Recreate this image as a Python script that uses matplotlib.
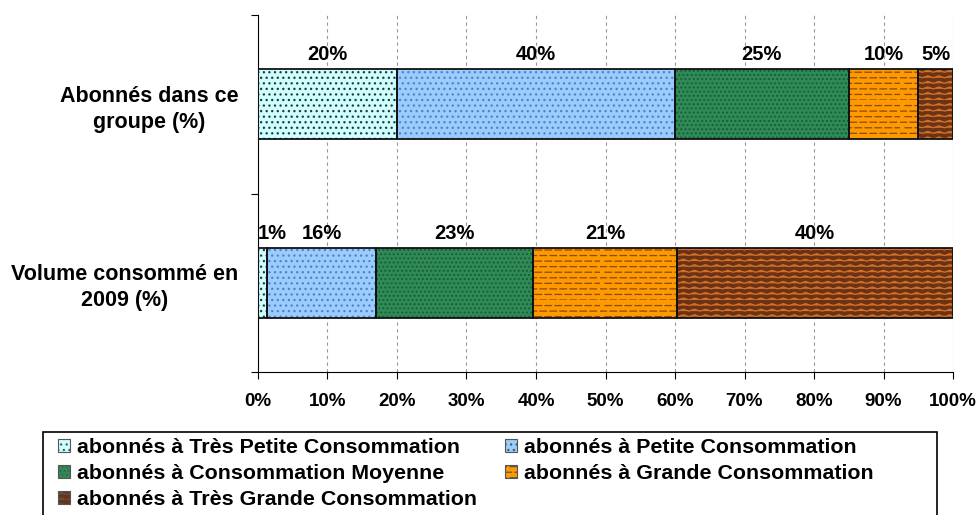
import warnings
import matplotlib
matplotlib.use("Agg")
import matplotlib.pyplot as plt
import matplotlib.hatch as mhatch
from matplotlib.path import Path
from matplotlib.patches import Patch, Rectangle
import numpy as np

warnings.filterwarnings("ignore")

plt.rcParams['font.family'] = ['Liberation Sans', 'DejaVu Sans']
plt.rcParams['font.weight'] = 'bold'
plt.rcParams['hatch.linewidth'] = 0.9

# Data
rows = ["Volume consommé en\n2009 (%)", "Abonnés dans ce\ngroupe (%)"]
series = [
    "abonnés à Très Petite Consommation",
    "abonnés à Petite Consommation",
    "abonnés à Consommation Moyenne",
    "abonnés à Grande Consommation",
    "abonnés à Très Grande Consommation",
]
volume = [1.3, 15.7, 22.6, 20.7, 39.7]
abonnes = [20, 40, 25, 10, 5]
volume_labels = ["1%", "16%", "23%", "21%", "40%"]
abonnes_labels = ["20%", "40%", "25%", "10%", "5%"]

colors = ["#CCFFFF", "#99CCFF", "#2E8B57", "#FF9900", "#6B3214"]
hatch_colors = ["#333333", "#5A7FC0", "#1C5A36", "#8A4A10", "#D0702A"]
hatches = ["...", "...", "....", "ddd", "zzz"]


# extra hatch patterns: zigzag (z) and dashed rows (d)
class ZigZagHatch(mhatch.HatchPatternBase):
    def __init__(self, hatch, density):
        self.num_lines = int(hatch.count('z') * density)
        self.k = 9
        self.num_vertices = self.num_lines * (2 * self.k + 1)

    def set_vertices_and_codes(self, vertices, codes):
        n = 2 * self.k + 1
        xs = np.linspace(0, 1, n)
        amp = 0.35 / max(self.num_lines, 1)
        for i in range(self.num_lines):
            y0 = i / self.num_lines
            ys = y0 + np.where(np.arange(n) % 2 == 0, 0.0, amp)
            vertices[i * n:(i + 1) * n, 0] = xs
            vertices[i * n:(i + 1) * n, 1] = ys
            codes[i * n] = Path.MOVETO
            codes[i * n + 1:(i + 1) * n] = Path.LINETO


class DashHatch(mhatch.HatchPatternBase):
    def __init__(self, hatch, density):
        self.num_lines = int(hatch.count('d') * density)
        self.k = 10
        self.num_vertices = self.num_lines * self.k * 2

    def set_vertices_and_codes(self, vertices, codes):
        idx = 0
        for i in range(self.num_lines):
            y = i / self.num_lines
            off = 0.5 / self.k if i % 2 else 0.0
            for j in range(self.k):
                x0 = j / self.k + off
                vertices[idx] = (x0, y)
                vertices[idx + 1] = (x0 + 0.65 / self.k, y)
                codes[idx] = Path.MOVETO
                codes[idx + 1] = Path.LINETO
                idx += 2


mhatch._hatch_types.append(ZigZagHatch)
mhatch._hatch_types.append(DashHatch)

fig = plt.figure(figsize=(9.78, 5.15), dpi=100)
ax = fig.add_axes([258 / 978, 143 / 515, 695 / 978, 357 / 515])

data = np.array([volume, abonnes])
labels = [volume_labels, abonnes_labels]
ypos = np.arange(len(rows))
h = 0.39

left = np.zeros(len(rows))
for i in range(len(series)):
    vals = data[:, i]
    ax.barh(ypos, vals, left=left, height=h, color=colors[i],
            edgecolor="none", linewidth=0, zorder=2)
    ax.barh(ypos, vals, left=left, height=h, facecolor="none",
            edgecolor=hatch_colors[i], hatch=hatches[i], linewidth=0, zorder=3)
    ax.barh(ypos, vals, left=left, height=h, facecolor="none",
            edgecolor="#111111", linewidth=1.3, zorder=4)
    for j in range(len(rows)):
        x = left[j] + vals[j] / 2
        if j == 0 and i == 0:
            x = left[j] + 2.0
        ax.text(x, ypos[j] + h / 2 + 0.082, labels[j][i], ha="center",
                va="center", fontsize=14.5, fontweight="bold")
    left = left + vals

ax.set_xlim(0, 100)
ax.set_ylim(-0.5, 1.5)
ax.set_xticks(np.arange(0, 101, 10))
ax.set_xticklabels([f"{v}%" for v in range(0, 101, 10)], fontsize=13.5,
                   fontweight="bold")
ax.set_yticks([-0.5, 0.5, 1.5])
ax.set_yticklabels([])
ax.set_yticks(ypos, minor=True)
ax.set_yticklabels(rows, minor=True, fontsize=15.5, fontweight="bold",
                   ha="right", multialignment="center", linespacing=1.3)
ax.tick_params(axis="y", which="minor", length=0, pad=14)
ax.tick_params(axis="y", which="major", length=5, direction="out")
ax.tick_params(axis="x", length=5, direction="out", pad=10)
ax.xaxis.grid(True, linestyle=(0, (3, 3)), color="#999999", linewidth=0.8,
              zorder=0)
ax.set_axisbelow(True)
for s in ["top", "right"]:
    ax.spines[s].set_visible(False)

# legend: filled row by row like the original
handles = [Patch(facecolor=colors[i], edgecolor="#555555", hatch=hatches[i],
                 linewidth=0.8) for i in range(len(series))]
order = [0, 2, 4, 1, 3]
fig.legend([handles[i] for i in order], [series[i] for i in order],
           loc="upper left", ncol=2, bbox_to_anchor=(58 / 978, 1 - 438 / 515),
           frameon=False, prop={"weight": "bold", "size": 15.4},
           handlelength=0.56, handleheight=0.56, handletextpad=0.33,
           columnspacing=1.3, labelspacing=0.33, borderaxespad=0,
           borderpad=0)
fig.patches.append(Rectangle((43 / 978, -0.02), (937 - 43) / 978,
                             1 - 432 / 515 + 0.02, transform=fig.transFigure,
                             fill=False, edgecolor="black", linewidth=1.2))

fig.savefig("out.png", dpi=100)
